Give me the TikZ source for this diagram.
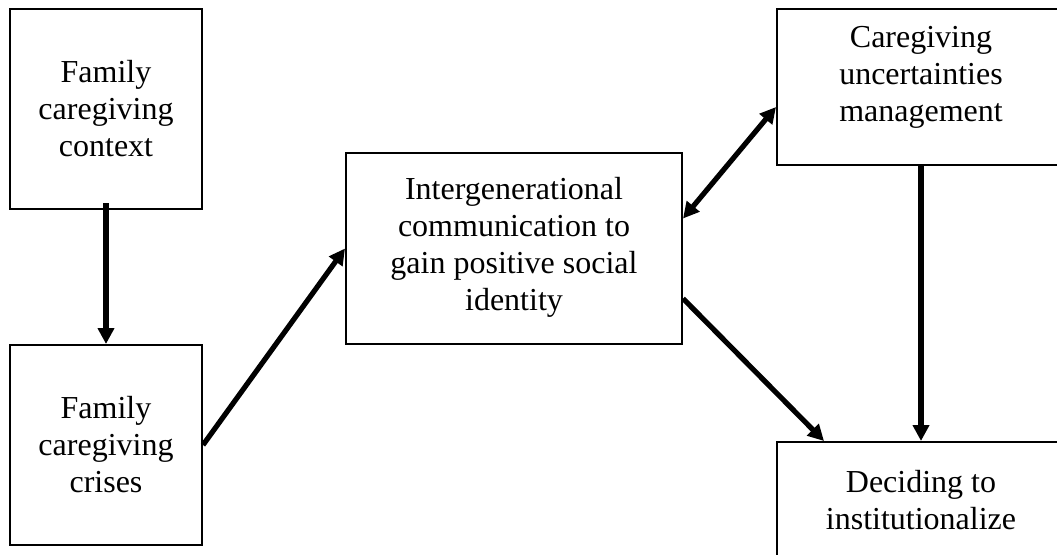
\documentclass[tikz,border=0pt]{standalone}
\usepackage{fontspec}
\setmainfont{Liberation Serif}
\usepackage{tikz}
\usetikzlibrary{arrows.meta, positioning, calc}

\begin{document}
\begin{tikzpicture}[x=1pt, y=-1pt,
    box/.style={draw, line width=2pt, rectangle, align=center, inner sep=0pt,
      font=\fontsize{32pt}{37pt}\selectfont},
    arr/.style={line width=5.2pt, -{Triangle[length=16pt,width=16pt]}},
    biarr/.style={line width=5.2pt, {Triangle[length=16pt,width=16pt]}-{Triangle[length=16pt,width=16pt]}}]
  \useasboundingbox (0,0) rectangle (1057,554);
  \clip (0,0) rectangle (1057,554);
  % Left column
  \node[box, minimum width=192pt, minimum height=200pt] (context) at (106,109) {Family\\caregiving\\context};
  \node[box, minimum width=192pt, minimum height=200pt] (crises) at (106,445) {Family\\caregiving\\crises};
  % Middle
  \node[box, minimum width=336pt, minimum height=191pt] (comm) at (514,248.5)
    {Intergenerational\\communication to\\gain positive social\\identity\\[-27pt]\mbox{}};
  % Right column (runs past the edge)
  \node[box, minimum width=288pt, minimum height=156pt] (uncert) at (921,87)
    {Caregiving\\uncertainties\\management\\[-10pt]\mbox{}};
  \node[box, minimum width=288pt, minimum height=126pt] (decide) at (921,505)
    {Deciding to\\institutionalize\\[-27pt]\mbox{}};
  % Arrows
  \draw[arr] ([yshift=7pt]context.south) -- (crises.north);
  \draw[arr] (crises.east) -- (comm.west);
  \draw[biarr] ([yshift=30pt]comm.east) -- ([yshift=-20pt]uncert.west);
  \draw[arr] ([yshift=-50pt]comm.east) -- ([xshift=48pt]decide.north west);
  \draw[arr] (uncert.south) -- (uncert.south |- decide.north);
\end{tikzpicture}
\end{document}
